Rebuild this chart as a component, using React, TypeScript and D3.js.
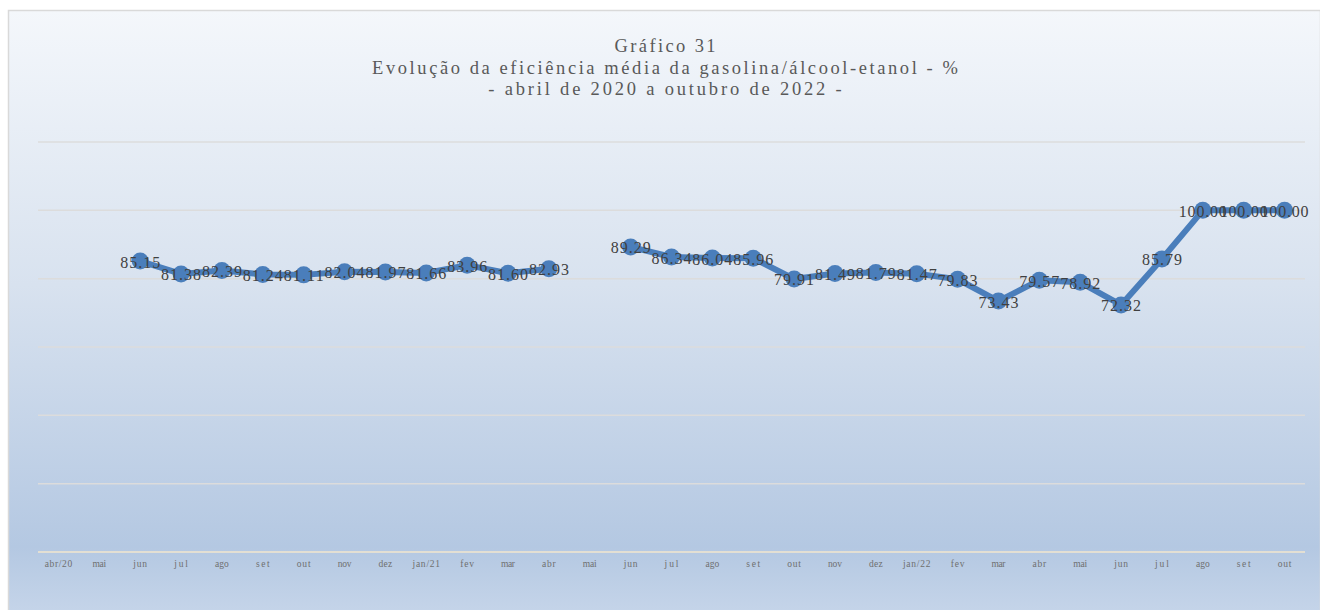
import React, { useEffect, useRef } from 'react';
import * as d3 from 'd3';

const months: string[] = [
    "abr/20", "mai", "jun", "jul", "ago", "set", "out", "nov", "dez",
    "jan/21", "fev", "mar", "abr", "mai", "jun", "jul", "ago", "set", "out",
    "nov", "dez", "jan/22", "fev", "mar", "abr", "mai", "jun", "jul", "ago",
    "set", "out",
];
const efficiency: (number | null)[] = [
    null, null, 85.15, 81.38, 82.39, 81.24, 81.11, 82.04, 81.97,
    81.66, 83.96, 81.60, 82.93, null, 89.29, 86.34, 86.04, 85.96, 79.91,
    81.49, 81.79, 81.47, 79.83, 73.43, 79.57, 78.92, 72.32, 85.79, 100.00,
    100.00, 100.00,
];
const gridTicks: number[] = [0, 20, 40, 60, 80, 100, 120];
const titleLines: string[] = [
    "Gráfico 31",
    "Evolução da eficiência média da gasolina/álcool-etanol - %",
    "- abril de 2020 a outubro de 2022 -",
];

const W = 1320;
const H = 610;
const FONT = "'Liberation Serif', 'DejaVu Serif', serif";

const App: React.FC = () => {
    const ref = useRef<SVGSVGElement | null>(null);

    useEffect(() => {
        const node = ref.current;
        if (!node) return;
        const svg = d3.select(node);
        svg.selectAll("*").remove();

        const plot = { left: 38, right: 1305, top: 142, bottom: 552 };

        // background gradient
        const defs = svg.append("defs");
        const grad = defs.append("linearGradient")
            .attr("id", "bg").attr("x1", 0).attr("y1", 0).attr("x2", 0).attr("y2", 1);
        grad.append("stop").attr("offset", "0%").attr("stop-color", "#f4f7fb");
        grad.append("stop").attr("offset", "45%").attr("stop-color", "#d8e2ef");
        grad.append("stop").attr("offset", "88%").attr("stop-color", "#b4c8e2");
        grad.append("stop").attr("offset", "100%").attr("stop-color", "#c7d6ea");

        svg.append("rect")
            .attr("x", 8.5).attr("y", 10.5)
            .attr("width", W - 8).attr("height", H)
            .attr("fill", "url(#bg)")
            .attr("stroke", "#d9d9d9")
            .attr("stroke-width", 1.5);

        const x = d3.scaleBand<number>()
            .domain(d3.range(months.length))
            .range([plot.left, plot.right]);
        const cx = (i: number) => (x(i) ?? 0) + x.bandwidth() / 2;
        const y = d3.scaleLinear().domain([0, 120]).range([plot.bottom, plot.top]);

        // grid lines
        svg.append("g")
            .selectAll("line")
            .data(gridTicks)
            .enter()
            .append("line")
            .attr("x1", plot.left).attr("x2", plot.right)
            .attr("y1", (d) => y(d)).attr("y2", (d) => y(d))
            .attr("stroke", (d) => (d === 0 ? "#e3dfd3" : "#dcdcdc"))
            .attr("stroke-width", (d) => (d === 0 ? 2 : 1.5));

        // x labels
        svg.append("g")
            .selectAll("text")
            .data(months)
            .enter()
            .append("text")
            .attr("x", (_, i) => cx(i))
            .attr("y", plot.bottom + 15)
            .attr("text-anchor", "middle")
            .attr("font-family", FONT)
            .attr("font-size", 9.5)
            .attr("fill", "#6f6f6f")
            .attr("textLength", (d) => d.length * 4.6)
            .attr("lengthAdjust", "spacing")
            .text((d) => d);

        // title
        svg.append("g")
            .selectAll("text")
            .data(titleLines)
            .enter()
            .append("text")
            .attr("x", 665)
            .attr("y", (_, i) => 52 + i * 21.5)
            .attr("text-anchor", "middle")
            .attr("font-family", FONT)
            .attr("font-size", 18.5)
            .attr("fill", "#595959")
            .attr("textLength", (d) => d.length * 10.1)
            .attr("lengthAdjust", "spacing")
            .text((d) => d);

        const pts = efficiency
            .map((v, i) => ({ i, v }))
            .filter((d): d is { i: number; v: number } => d.v !== null);

        const line = d3.line<number | null>()
            .defined((d) => d !== null)
            .x((_, i) => cx(i))
            .y((d) => y(d as number));

        svg.append("path")
            .datum(efficiency)
            .attr("d", line)
            .attr("fill", "none")
            .attr("stroke", "#4a7ebb")
            .attr("stroke-width", 6)
            .attr("stroke-linejoin", "round")
            .attr("stroke-linecap", "round");

        svg.append("g")
            .selectAll("circle")
            .data(pts)
            .enter()
            .append("circle")
            .attr("cx", (d) => cx(d.i))
            .attr("cy", (d) => y(d.v))
            .attr("r", 8.5)
            .attr("fill", "#4a7ebb");

        svg.append("g")
            .selectAll("text")
            .data(pts)
            .enter()
            .append("text")
            .attr("x", (d) => cx(d.i))
            .attr("y", (d) => y(d.v) + 1)
            .attr("text-anchor", "middle")
            .attr("dominant-baseline", "central")
            .attr("font-family", FONT)
            .attr("font-size", 16)
            .attr("fill", "#404040")
            .attr("textLength", (d) => d.v.toFixed(2).length * 8)
            .attr("lengthAdjust", "spacing")
            .text((d) => d.v.toFixed(2));
    }, []);

    return (
        <svg
            ref={ref}
            width={W}
            height={H}
            style={{ position: 'absolute', left: 0, top: 0, display: 'block' }}
        />
    );
};

export default App;
